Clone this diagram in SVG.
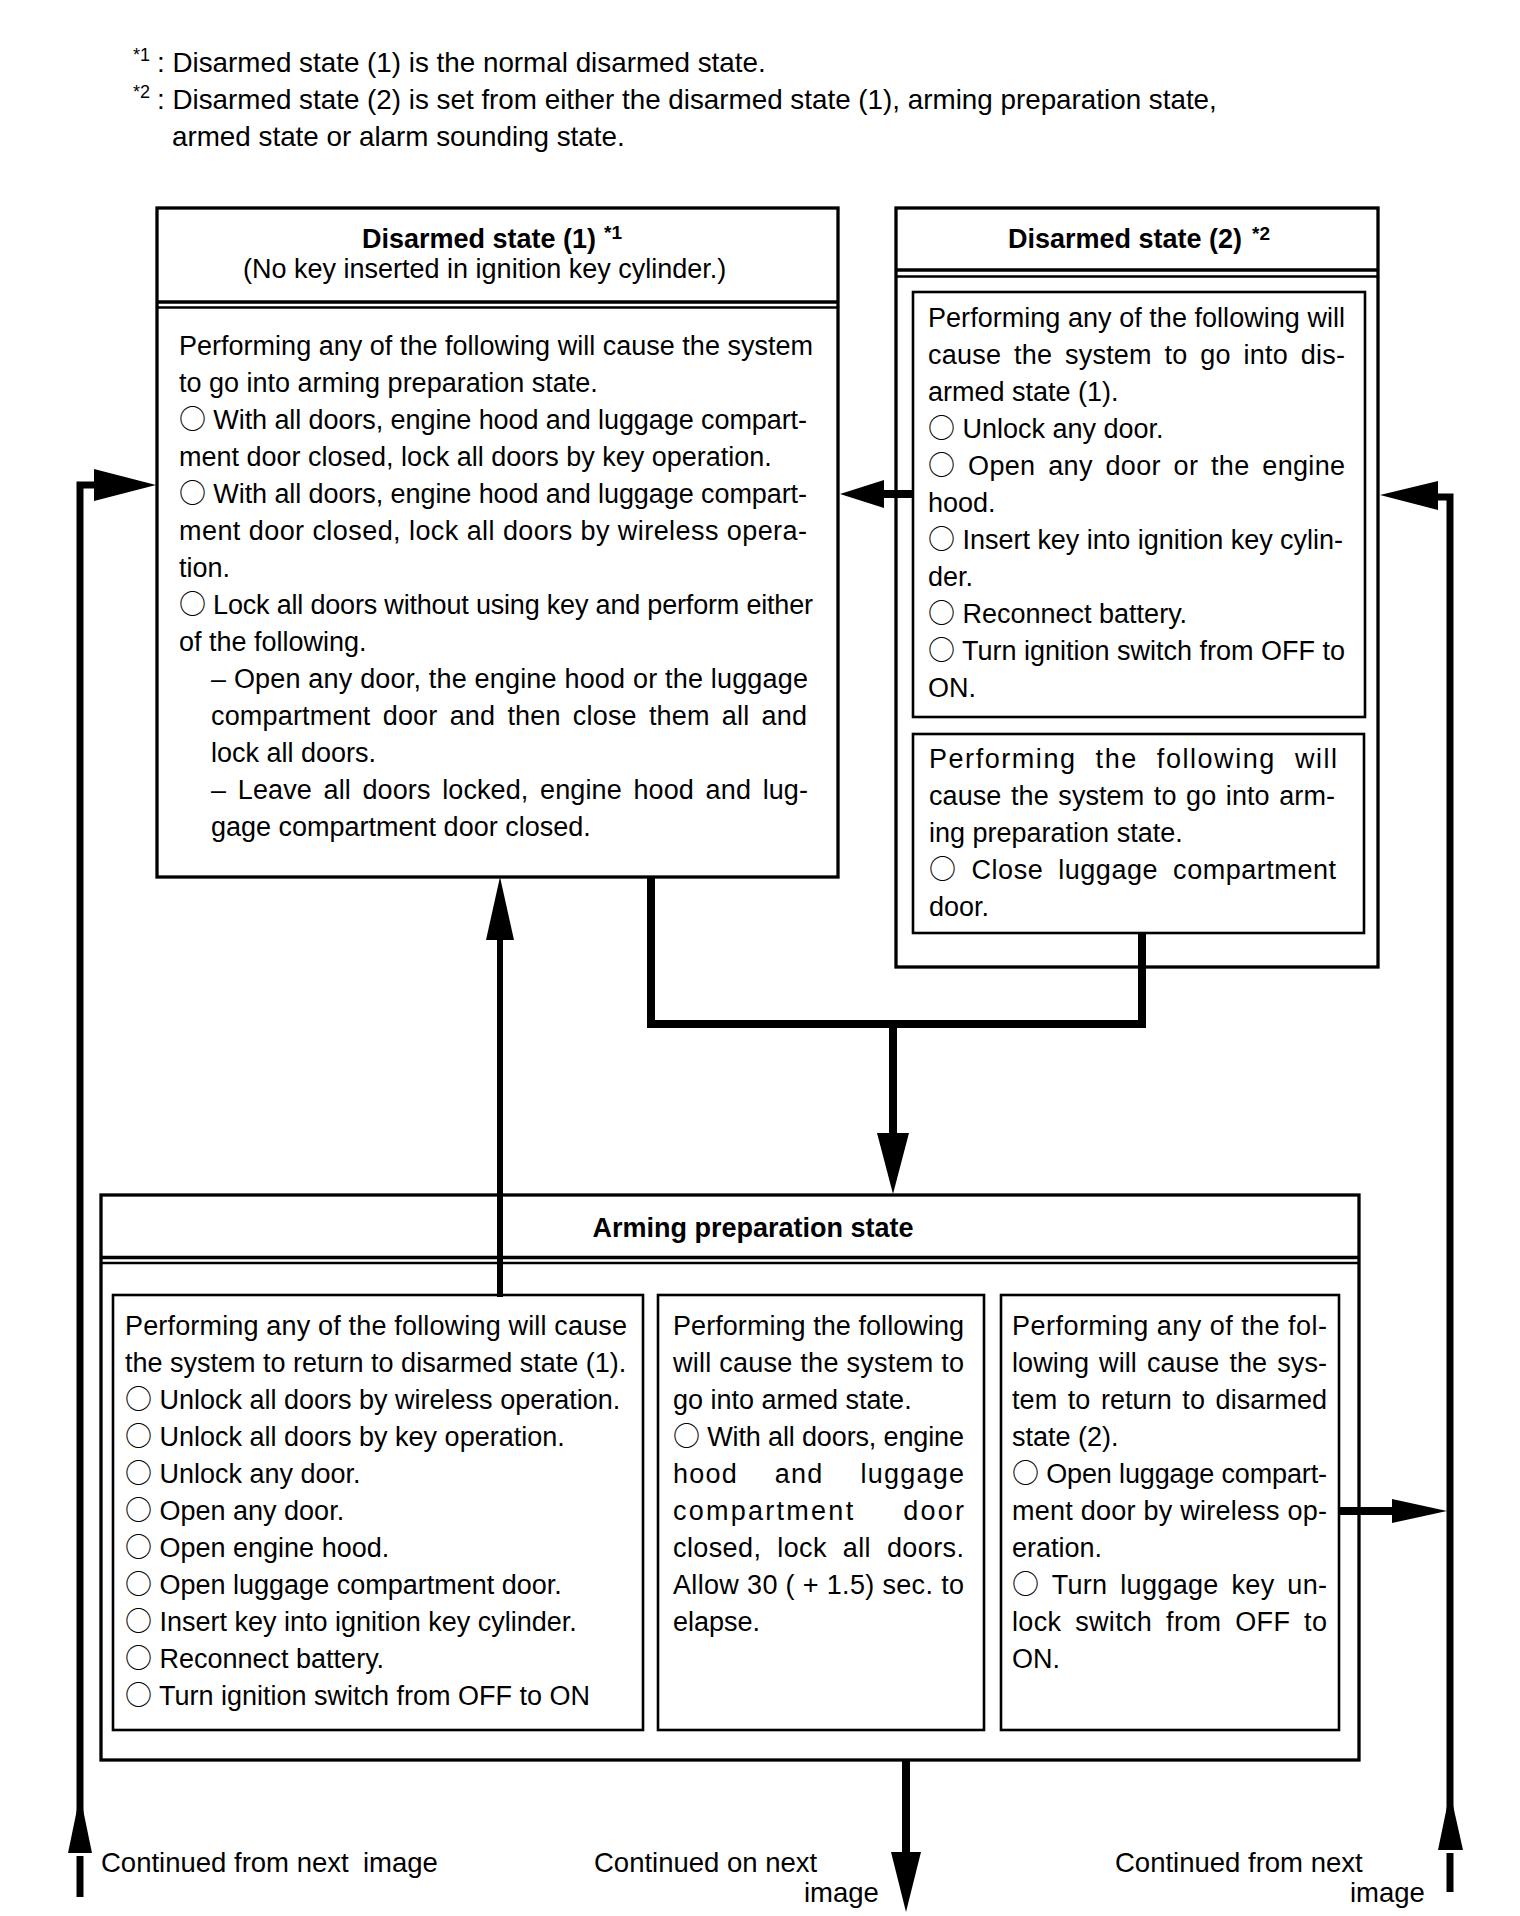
<svg xmlns="http://www.w3.org/2000/svg" width="1520" height="1916" viewBox="0 0 1520 1916">
<style>
.t{font-family:"Liberation Sans",Arial,sans-serif;font-size:27px;fill:#000}
.fn{font-size:27.8px}
.sup{font-size:18px}
.hsup{font-size:19px}
.b{font-weight:bold}
.lb{font-size:27.5px}
.c{font-family:"Noto Sans CJK JP","DejaVu Sans",sans-serif}
.box{fill:#fff;stroke:#000;stroke-width:3.3}
.sub{fill:none;stroke:#000;stroke-width:2.6}
.dl1{stroke:#000;stroke-width:3.3}
.dl2{stroke:#000;stroke-width:2.6}
.ln{fill:none;stroke:#000;stroke-width:8;stroke-linejoin:miter}
.thin{stroke-width:6}
.ah{fill:#000}
</style>
<rect width="1520" height="1916" fill="#fff"/>

<g id="footnotes" class="t">
<text class="t sup" x="133" y="61">*1</text>
<text class="t fn" x="157" y="72">: Disarmed state (1) is the normal disarmed state.</text>
<text class="t sup" x="133" y="98">*2</text>
<text class="t fn" x="157" y="109">: Disarmed state (2) is set from either the disarmed state (1), arming preparation state,</text>
<text class="t fn" x="172" y="146">armed state or alarm sounding state.</text>
</g>

<g id="disarmed1">
<rect class="box" x="157" y="208" width="681" height="669"/>
<line class="dl1" x1="157" y1="302" x2="838" y2="302"/>
<line class="dl2" x1="157" y1="307.5" x2="838" y2="307.5"/>
<text class="t b" x="362" y="248">Disarmed state (1)</text>
<text class="t b hsup" x="604" y="239">*1</text>
<text class="t" x="243" y="278">(No key inserted in ignition key cylinder.)</text>
<text class="t" x="179" y="355" textLength="634" lengthAdjust="spacing">Performing any of the following will cause the system</text>
<text class="t" x="179" y="392">to go into arming preparation state.</text>
<text class="t" x="179" y="429" textLength="628" lengthAdjust="spacing"><tspan class="c">○</tspan> With all doors, engine hood and luggage compart-</text>
<text class="t" x="179" y="466">ment door closed, lock all doors by key operation.</text>
<text class="t" x="179" y="503" textLength="628" lengthAdjust="spacing"><tspan class="c">○</tspan> With all doors, engine hood and luggage compart-</text>
<text class="t" x="179" y="540" textLength="628" lengthAdjust="spacing">ment door closed, lock all doors by wireless opera-</text>
<text class="t" x="179" y="577">tion.</text>
<text class="t" x="179" y="614" textLength="634" lengthAdjust="spacing"><tspan class="c">○</tspan> Lock all doors without using key and perform either</text>
<text class="t" x="179" y="651">of the following.</text>
<text class="t" x="211" y="688" textLength="597" lengthAdjust="spacing">– Open any door, the engine hood or the luggage</text>
<text class="t" x="211" y="725" textLength="596" lengthAdjust="spacing" word-spacing="4.5">compartment door and then close them all and</text>
<text class="t" x="211" y="762">lock all doors.</text>
<text class="t" x="211" y="799" textLength="597" lengthAdjust="spacing" word-spacing="4">– Leave all doors locked, engine hood and lug-</text>
<text class="t" x="211" y="836">gage compartment door closed.</text>
</g>

<g id="disarmed2">
<rect class="box" x="896" y="208" width="482" height="759"/>
<line class="dl1" x1="896" y1="270" x2="1378" y2="270"/>
<line class="dl2" x1="896" y1="276.5" x2="1378" y2="276.5"/>
<text class="t b" x="1008" y="248">Disarmed state (2)</text>
<text class="t b hsup" x="1252" y="240">*2</text>
<g id="disarmed2-to-disarmed1">
<rect class="sub" x="913" y="292" width="452" height="425"/>
<text class="t" x="928" y="327" textLength="417" lengthAdjust="spacing">Performing any of the following will</text>
<text class="t" x="928" y="364" textLength="417" lengthAdjust="spacing" word-spacing="5">cause the system to go into dis-</text>
<text class="t" x="928" y="401">armed state (1).</text>
<text class="t" x="928" y="438"><tspan class="c">○</tspan> Unlock any door.</text>
<text class="t" x="928" y="475" textLength="417" lengthAdjust="spacing" word-spacing="5"><tspan class="c">○</tspan> Open any door or the engine</text>
<text class="t" x="928" y="512">hood.</text>
<text class="t" x="928" y="549" textLength="415" lengthAdjust="spacing"><tspan class="c">○</tspan> Insert key into ignition key cylin-</text>
<text class="t" x="928" y="586">der.</text>
<text class="t" x="928" y="623"><tspan class="c">○</tspan> Reconnect battery.</text>
<text class="t" x="928" y="660" textLength="417" lengthAdjust="spacing"><tspan class="c">○</tspan> Turn ignition switch from OFF to</text>
<text class="t" x="928" y="697">ON.</text>
</g>
<g id="disarmed2-to-arming">
<rect class="sub" x="913" y="734" width="451" height="199"/>
<text class="t" x="929" y="768" textLength="408" lengthAdjust="spacing" word-spacing="10">Performing the following will</text>
<text class="t" x="929" y="805" textLength="406" lengthAdjust="spacing" word-spacing="2">cause the system to go into arm-</text>
<text class="t" x="929" y="842">ing preparation state.</text>
<text class="t" x="929" y="879" textLength="407" lengthAdjust="spacing" word-spacing="7"><tspan class="c">○</tspan> Close luggage compartment</text>
<text class="t" x="929" y="916">door.</text>
</g>
</g>

<g id="arming">
<rect class="box" x="101" y="1195" width="1258" height="565"/>
<line class="dl1" x1="101" y1="1257.5" x2="1359" y2="1257.5"/>
<line class="dl2" x1="101" y1="1263" x2="1359" y2="1263"/>
<text class="t b" x="753" y="1237" text-anchor="middle">Arming preparation state</text>
<g id="arming-to-disarmed1">
<rect class="sub" x="113" y="1295" width="530" height="435"/>
<text class="t" x="125" y="1335" textLength="502" lengthAdjust="spacing">Performing any of the following will cause</text>
<text class="t" x="125" y="1372">the system to return to disarmed state (1).</text>
<text class="t" x="125" y="1409"><tspan class="c">○</tspan> Unlock all doors by wireless operation.</text>
<text class="t" x="125" y="1446"><tspan class="c">○</tspan> Unlock all doors by key operation.</text>
<text class="t" x="125" y="1483"><tspan class="c">○</tspan> Unlock any door.</text>
<text class="t" x="125" y="1520"><tspan class="c">○</tspan> Open any door.</text>
<text class="t" x="125" y="1557"><tspan class="c">○</tspan> Open engine hood.</text>
<text class="t" x="125" y="1594"><tspan class="c">○</tspan> Open luggage compartment door.</text>
<text class="t" x="125" y="1631"><tspan class="c">○</tspan> Insert key into ignition key cylinder.</text>
<text class="t" x="125" y="1668"><tspan class="c">○</tspan> Reconnect battery.</text>
<text class="t" x="125" y="1705"><tspan class="c">○</tspan> Turn ignition switch from OFF to ON</text>
</g>
<g id="arming-to-armed">
<rect class="sub" x="658" y="1295" width="326" height="435"/>
<text class="t" x="673" y="1335" textLength="291" lengthAdjust="spacing">Performing the following</text>
<text class="t" x="673" y="1372" textLength="291" lengthAdjust="spacing">will cause the system to</text>
<text class="t" x="673" y="1409">go into armed state.</text>
<text class="t" x="673" y="1446" textLength="291" lengthAdjust="spacing"><tspan class="c">○</tspan> With all doors, engine</text>
<text class="t" x="673" y="1483" textLength="291" lengthAdjust="spacing" word-spacing="28">hood and luggage</text>
<text class="t" x="673" y="1520" textLength="291" lengthAdjust="spacing" word-spacing="38">compartment door</text>
<text class="t" x="673" y="1557" textLength="291" lengthAdjust="spacing" word-spacing="8">closed, lock all doors.</text>
<text class="t" x="673" y="1594" textLength="291" lengthAdjust="spacing">Allow 30 ( + 1.5) sec. to</text>
<text class="t" x="673" y="1631">elapse.</text>
</g>
<g id="arming-to-disarmed2">
<rect class="sub" x="1001" y="1295" width="338" height="435"/>
<text class="t" x="1012" y="1335" textLength="315" lengthAdjust="spacing">Performing any of the fol-</text>
<text class="t" x="1012" y="1372" textLength="315" lengthAdjust="spacing" word-spacing="2.5">lowing will cause the sys-</text>
<text class="t" x="1012" y="1409" textLength="315" lengthAdjust="spacing" word-spacing="3">tem to return to disarmed</text>
<text class="t" x="1012" y="1446">state (2).</text>
<text class="t" x="1012" y="1483" textLength="315" lengthAdjust="spacing"><tspan class="c">○</tspan> Open luggage compart-</text>
<text class="t" x="1012" y="1520" textLength="315" lengthAdjust="spacing">ment door by wireless op-</text>
<text class="t" x="1012" y="1557">eration.</text>
<text class="t" x="1012" y="1594" textLength="315" lengthAdjust="spacing" word-spacing="5"><tspan class="c">○</tspan> Turn luggage key un-</text>
<text class="t" x="1012" y="1631" textLength="315" lengthAdjust="spacing" word-spacing="6">lock switch from OFF to</text>
<text class="t" x="1012" y="1668">ON.</text>
</g>
</g>

<g id="connectors">
<path class="ln" style="stroke-width:7" d="M80 1897 V1856"/>
<path class="ln" style="stroke-width:7" d="M80 1852 V485 H96"/>
<polygon class="ah" points="156,485 94,469 94,501"/>
<polygon class="ah" points="80,1795 68,1853 92,1853"/>
<path class="ln" style="stroke-width:7" d="M1450 1892 V1853"/>
<path class="ln" style="stroke-width:7" d="M1450 1849 V497 H1436"/>
<polygon class="ah" points="1380,495 1438,481 1438,510"/>
<polygon class="ah" points="1450,1792 1438,1850 1463,1850"/>
<path class="ln" d="M1339 1511 H1394"/>
<polygon class="ah" points="1447,1511 1392,1499 1392,1523"/>
<path class="ln" d="M913 494 H880"/>
<polygon class="ah" points="840,494 884,480 884,508"/>
<path class="ln" d="M651 877 V1024 H1142 V933"/>
<path class="ln" d="M893 1024 V1136"/>
<polygon class="ah" points="893,1194 877,1133 909,1133"/>
<path class="ln thin" d="M500 1297 V938"/>
<polygon class="ah" points="500,877 486,940 514,940"/>
<path class="ln" d="M906 1760 V1855"/>
<polygon class="ah" points="906,1912 891,1852 921,1852"/>
</g>

<g id="continuation-labels">
<text class="t lb" x="101" y="1872">Continued from next</text>
<text class="t lb" x="363" y="1872">image</text>
<text class="t lb" x="594" y="1872">Continued on next</text>
<text class="t lb" x="804" y="1902">image</text>
<text class="t lb" x="1115" y="1872">Continued from next</text>
<text class="t lb" x="1350" y="1902">image</text>
</g>
</svg>
